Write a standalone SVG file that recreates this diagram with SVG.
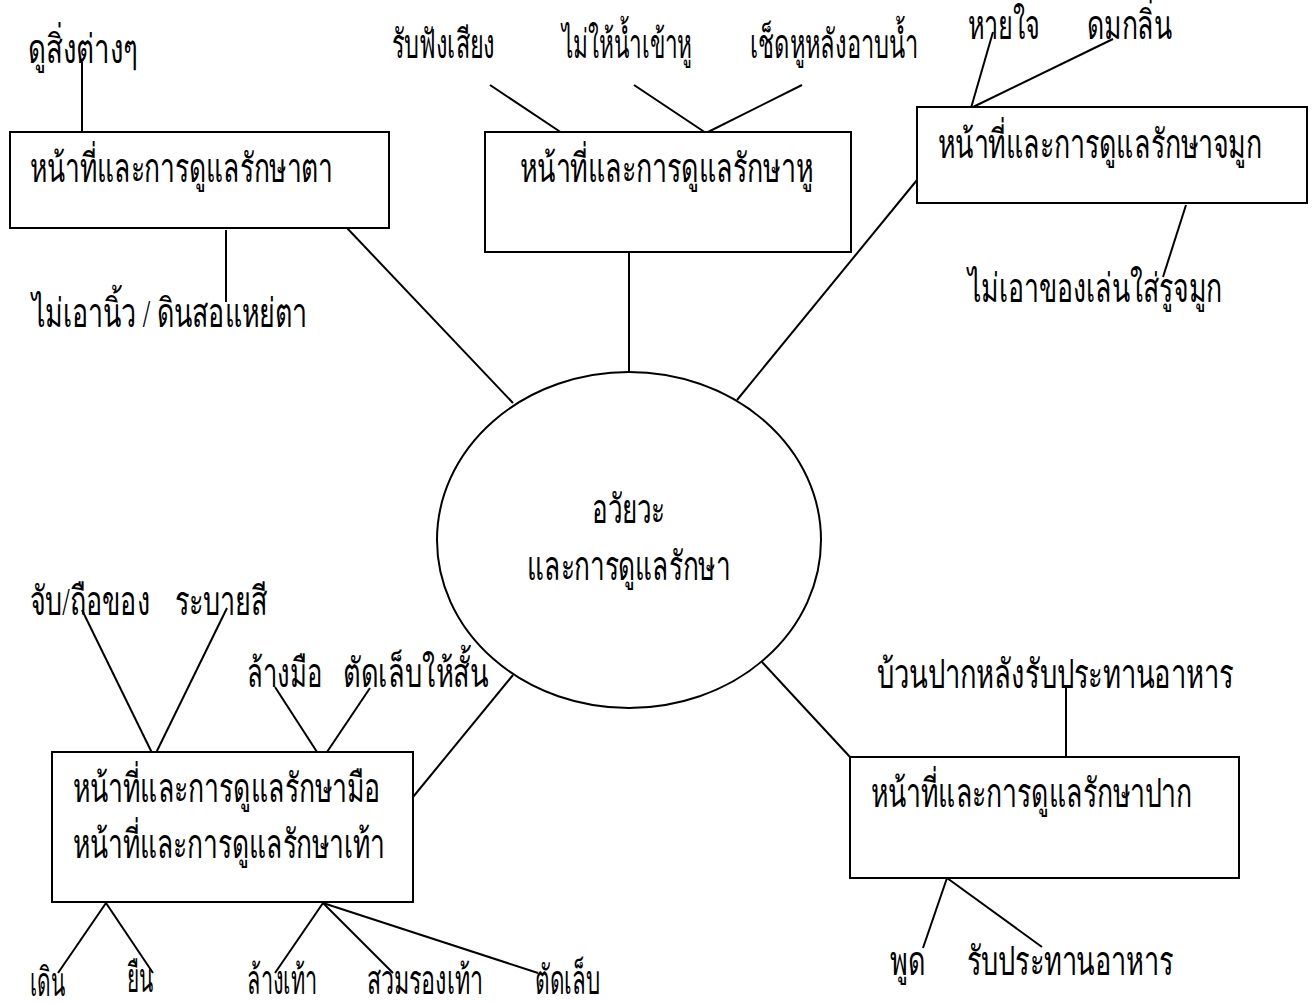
<svg xmlns="http://www.w3.org/2000/svg" width="1316" height="1003" viewBox="0 0 1316 1003">
<style>
  .box { fill: #fff; stroke: #000; stroke-width: 2; }
  .ln { stroke: #000; stroke-width: 2; fill: none; }
  text { font-family: "Liberation Serif", serif; font-size: 40px; fill: #000; }
</style>
<rect width="1316" height="1003" fill="#fff"/>
<g id="connectors">
  <line class="ln" x1="82" y1="62" x2="82" y2="132"/>
  <line class="ln" x1="226" y1="230" x2="226" y2="302"/>
  <line class="ln" x1="347" y1="228" x2="513" y2="403"/>
  <line class="ln" x1="490" y1="85" x2="562" y2="133"/>
  <line class="ln" x1="634" y1="85" x2="706" y2="133"/>
  <line class="ln" x1="802" y1="85" x2="706" y2="133"/>
  <line class="ln" x1="629" y1="252" x2="629" y2="372"/>
  <line class="ln" x1="993" y1="32" x2="971" y2="108"/>
  <line class="ln" x1="1113" y1="39" x2="971" y2="108"/>
  <line class="ln" x1="1186" y1="205" x2="1163" y2="277"/>
  <line class="ln" x1="737" y1="400" x2="917" y2="180"/>
  <line class="ln" x1="82" y1="610" x2="154" y2="757"/>
  <line class="ln" x1="227" y1="608" x2="154" y2="757"/>
  <line class="ln" x1="275" y1="687" x2="317" y2="752"/>
  <line class="ln" x1="370" y1="688" x2="327" y2="752"/>
  <line class="ln" x1="513" y1="675" x2="413" y2="797"/>
  <line class="ln" x1="106" y1="903" x2="58" y2="973"/>
  <line class="ln" x1="106" y1="903" x2="153" y2="973"/>
  <line class="ln" x1="323" y1="903" x2="275" y2="973"/>
  <line class="ln" x1="323" y1="903" x2="393" y2="973"/>
  <line class="ln" x1="323" y1="903" x2="538" y2="973"/>
  <line class="ln" x1="762" y1="662" x2="850" y2="757"/>
  <line class="ln" x1="1066" y1="688" x2="1066" y2="757"/>
  <line class="ln" x1="947" y1="878" x2="923" y2="948"/>
  <line class="ln" x1="947" y1="878" x2="1042" y2="947"/>
</g>
<g id="center">
  <ellipse class="box" cx="629" cy="540" rx="192" ry="168"/>
  <text x="592" y="523" textLength="73" lengthAdjust="spacingAndGlyphs">อวัยวะ</text>
  <text x="527" y="580" textLength="203" lengthAdjust="spacingAndGlyphs">และการดูแลรักษา</text>
</g>
<g id="eye">
  <rect class="box" x="10" y="132" width="379" height="96"/>
  <text x="30" y="182" textLength="303" lengthAdjust="spacingAndGlyphs">หน้าที่และการดูแลรักษาตา</text>
</g>
<g id="eye-see"><text x="28" y="63" textLength="110" lengthAdjust="spacingAndGlyphs">ดูสิ่งต่างๆ</text></g>
<g id="eye-care"><text x="32" y="327" textLength="275" lengthAdjust="spacingAndGlyphs">ไม่เอานิ้ว / ดินสอแหย่ตา</text></g>
<g id="ear">
  <rect class="box" x="485" y="132" width="366" height="120"/>
  <text x="520" y="182" textLength="293" lengthAdjust="spacingAndGlyphs">หน้าที่และการดูแลรักษาหู</text>
</g>
<g id="ear-hear"><text x="392" y="58" textLength="103" lengthAdjust="spacingAndGlyphs">รับฟังเสียง</text></g>
<g id="ear-water"><text x="562" y="58" textLength="130" lengthAdjust="spacingAndGlyphs">ไม่ให้น้ำเข้าหู</text></g>
<g id="ear-dry"><text x="750" y="58" textLength="168" lengthAdjust="spacingAndGlyphs">เช็ดหูหลังอาบน้ำ</text></g>
<g id="nose">
  <rect class="box" x="917" y="107" width="390" height="96"/>
  <text x="938" y="158" textLength="324" lengthAdjust="spacingAndGlyphs">หน้าที่และการดูแลรักษาจมูก</text>
</g>
<g id="nose-breathe"><text x="968" y="39" textLength="72" lengthAdjust="spacingAndGlyphs">หายใจ</text></g>
<g id="nose-smell"><text x="1087" y="39" textLength="85" lengthAdjust="spacingAndGlyphs">ดมกลิ่น</text></g>
<g id="nose-care"><text x="968" y="302" textLength="254" lengthAdjust="spacingAndGlyphs">ไม่เอาของเล่นใส่รูจมูก</text></g>
<g id="handfoot">
  <rect class="box" x="52" y="752" width="361" height="150"/>
  <text x="73" y="802" textLength="307" lengthAdjust="spacingAndGlyphs">หน้าที่และการดูแลรักษามือ</text>
  <text x="73" y="858" textLength="312" lengthAdjust="spacingAndGlyphs">หน้าที่และการดูแลรักษาเท้า</text>
</g>
<g id="hand-hold"><text x="30" y="615" textLength="120" lengthAdjust="spacingAndGlyphs">จับ/ถือของ</text></g>
<g id="hand-paint"><text x="175" y="615" textLength="92" lengthAdjust="spacingAndGlyphs">ระบายสี</text></g>
<g id="hand-wash"><text x="247" y="687" textLength="75" lengthAdjust="spacingAndGlyphs">ล้างมือ</text></g>
<g id="hand-nails"><text x="343" y="687" textLength="145" lengthAdjust="spacingAndGlyphs">ตัดเล็บให้สั้น</text></g>
<g id="foot-walk"><text x="30" y="996" textLength="35" lengthAdjust="spacingAndGlyphs">เดิน</text></g>
<g id="foot-stand"><text x="127" y="992" textLength="26" lengthAdjust="spacingAndGlyphs">ยืน</text></g>
<g id="foot-wash"><text x="247" y="994" textLength="70" lengthAdjust="spacingAndGlyphs">ล้างเท้า</text></g>
<g id="foot-shoes"><text x="367" y="994" textLength="116" lengthAdjust="spacingAndGlyphs">สวมรองเท้า</text></g>
<g id="foot-nails"><text x="535" y="994" textLength="65" lengthAdjust="spacingAndGlyphs">ตัดเล็บ</text></g>
<g id="mouth">
  <rect class="box" x="850" y="757" width="389" height="121"/>
  <text x="871" y="807" textLength="321" lengthAdjust="spacingAndGlyphs">หน้าที่และการดูแลรักษาปาก</text>
</g>
<g id="mouth-rinse"><text x="877" y="688" textLength="356" lengthAdjust="spacingAndGlyphs">บ้วนปากหลังรับประทานอาหาร</text></g>
<g id="mouth-speak"><text x="890" y="975" textLength="35" lengthAdjust="spacingAndGlyphs">พูด</text></g>
<g id="mouth-eat"><text x="967" y="975" textLength="206" lengthAdjust="spacingAndGlyphs">รับประทานอาหาร</text></g>
</svg>
